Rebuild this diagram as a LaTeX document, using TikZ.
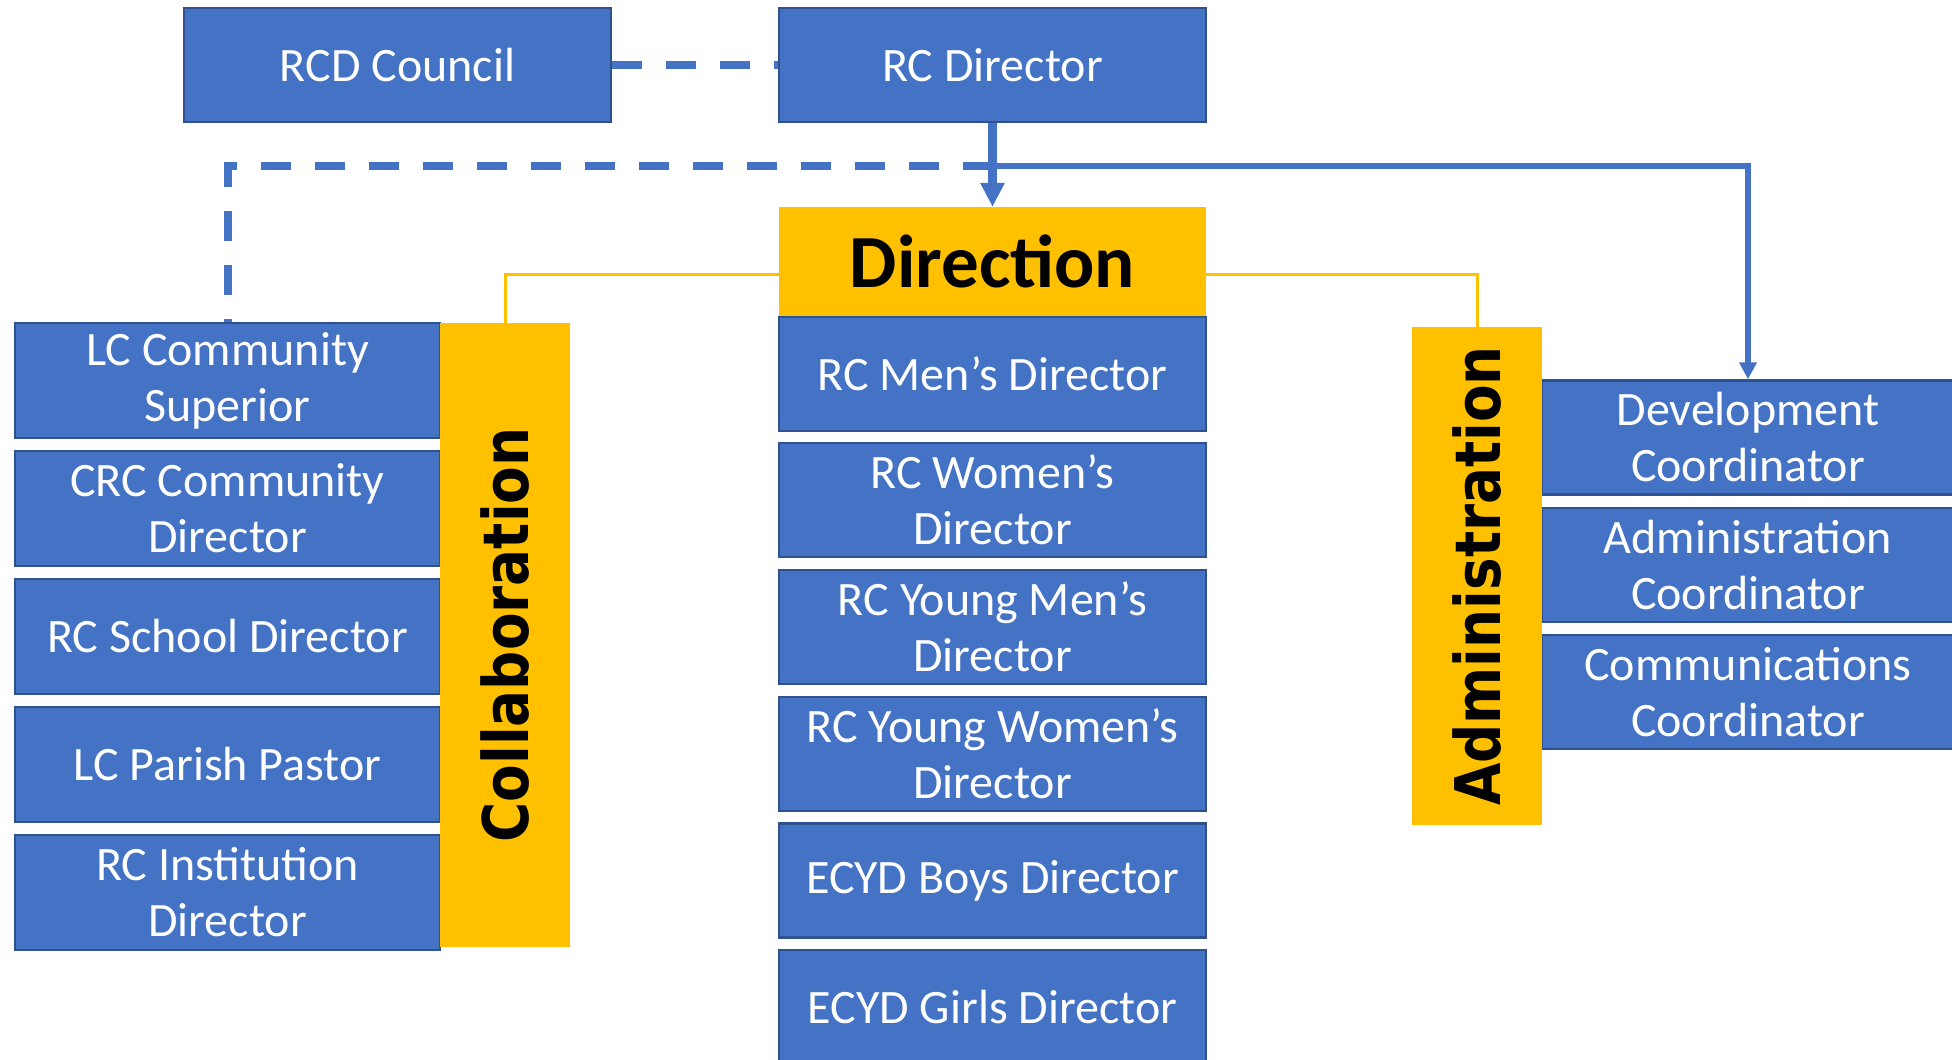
\documentclass[tikz,border=0pt]{standalone}
\usepackage{fontspec}
\setmainfont{Carlito}
\newfontfamily\groupfont{DejaVu Sans}[FakeStretch=0.87]
\usetikzlibrary{arrows.meta}
\definecolor{unitblue}{HTML}{4472C4}
\definecolor{edgeblue}{HTML}{2F528F}
\definecolor{groupyellow}{HTML}{FFC000}

\begin{document}
\begin{tikzpicture}[x=1pt, y=-1pt,
  unit/.style={draw=edgeblue, line width=2.5pt, fill=unitblue, text=white, align=center,
    minimum width=427pt, minimum height=114pt, inner sep=0pt, font=\fontsize{48}{56}\selectfont},
  sideunit/.style={unit, minimum width=425pt, minimum height=115pt},
  headbox/.style={fill=groupyellow, text=black, inner sep=0pt, minimum width=427pt,
    minimum height=109pt, font=\bfseries\fontsize{75}{80}\selectfont},
  group/.style={fill=groupyellow, text=black, inner sep=0pt, rotate=90,
    font=\groupfont\bfseries\fontsize{63}{70}\selectfont},
  link/.style={unitblue, line width=6pt},
  dashlink/.style={unitblue, line width=8pt, dash pattern=on 30pt off 24pt},
  yline/.style={groupyellow, line width=3pt}]
  \useasboundingbox (0,0) rectangle (1952,1060);
  \clip (0,0) rectangle (1952,1060);

  \node[unit] (council) at (397.5,65) {RCD Council};
  \node[unit] (rcdir) at (992.5,65) {RC Director};
  \node[headbox] (dir) at (992.5,261.5) {Direction};

  \node[unit] (men) at (992.5,374) {RC Men’s Director};
  \node[unit] (women) at (992.5,500) {RC Women’s\\Director};
  \node[unit] (ymen) at (992.5,627) {RC Young Men’s\\Director};
  \node[unit] (ywomen) at (992.5,754) {RC Young Women’s\\Director};
  \node[unit] (boys) at (992.5,880.5) {ECYD Boys Director};
  \node[unit] (girls) at (992.5,1007) {ECYD Girls Director};

  \node[sideunit] (lccs) at (227.5,380.5) {LC Community\\Superior};
  \node[sideunit] (crc) at (227.5,508.5) {CRC Community\\Director};
  \node[sideunit] (school) at (227.5,636.5) {RC School Director};
  \node[sideunit] (parish) at (227.5,764.5) {LC Parish Pastor};
  \node[sideunit] (inst) at (227.5,892.5) {RC Institution\\Director};
  \node[group, minimum width=624pt, minimum height=130pt] (collab) at (505,635) {Collaboration};

  \node[unit, minimum width=412pt] (dev) at (1748,437.5) {Development\\Coordinator};
  \node[unit, minimum width=412pt] (adm) at (1748,565) {Administration\\Coordinator};
  \node[unit, minimum width=412pt] (comm) at (1748,692) {Communications\\Coordinator};
  \node[group, minimum width=498pt, minimum height=130pt] (admin) at (1477,576) {Administration};

  % links from the director
  \coordinate (hub) at (992.5,166);
  \draw[dashlink] (council.east) -- (rcdir.west);
  \draw[dashlink] (hub) -| (lccs.north);
  \draw[link, -{Triangle[width=17pt,length=17pt]}] (rcdir.south) -- (hub) -| (dev.north);
  \draw[link, line width=9pt, -{Triangle[width=23pt,length=24pt]}] (rcdir.south) -- (dir.north);
  \draw[yline] ([yshift=-13pt]dir.west) -| (collab);
  \draw[yline] ([yshift=-13pt]dir.east) -| (admin);
\end{tikzpicture}
\end{document}
